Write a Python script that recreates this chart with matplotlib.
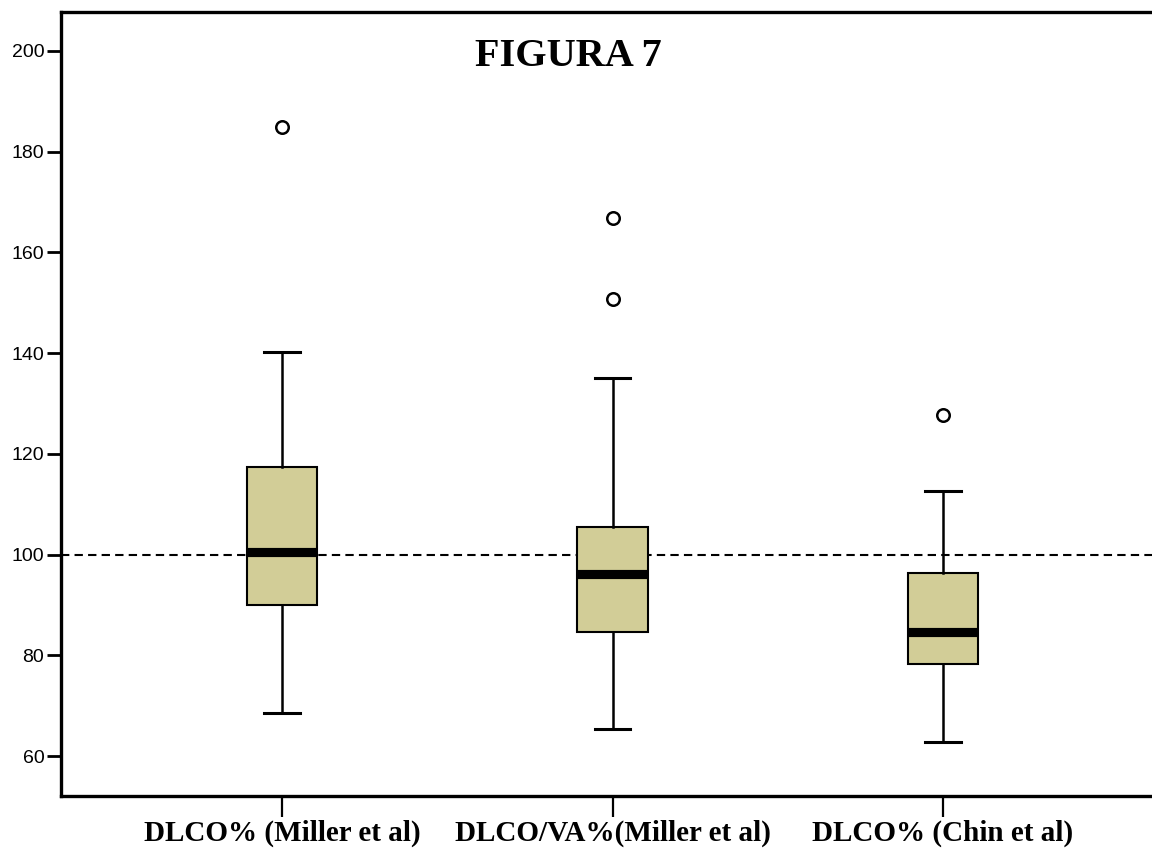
import numpy as np
import matplotlib.pyplot as plt

labels = ['DLCO% (Miller et al)', 'DLCO/VA%(Miller et al)', 'DLCO% (Chin et al)']
whisker_low = [68.5, 65.4, 62.8]
q1 = [90.0, 84.6, 78.3]
medians = [100.5, 96.1, 84.6]
q3 = [117.4, 105.5, 96.4]
whisker_high = [140.2, 135.1, 112.6]
outliers = [[184.9], [166.8, 150.8], [127.8]]

boxColor = '#d2cd97'

def buildStats():
    stats = []
    for i in range(len(labels)):
        stats.append({'whislo': whisker_low[i], 'q1': q1[i], 'med': medians[i],
                      'q3': q3[i], 'whishi': whisker_high[i], 'fliers': outliers[i]})
    return stats

def main():
    fig = plt.figure(figsize=(11.52, 8.52), dpi=100)
    # right spine lies outside the picture in the reference
    ax = fig.add_axes([61/1152, 1 - 796/852, (1164 - 61)/1152, (796 - 12)/852])

    ax.axhline(100, color='black', lw=1.5, ls=(0, (4, 2.5)), zorder=1)

    ax.bxp(buildStats(), positions=[1, 2, 3], widths=0.214, patch_artist=True,
           showfliers=True,
           boxprops=dict(facecolor=boxColor, edgecolor='black', lw=1.5),
           medianprops=dict(color='black', lw=6.6, solid_capstyle='butt'),
           whiskerprops=dict(color='black', lw=1.8),
           capprops=dict(color='black', lw=2.2),
           capwidths=0.107,
           flierprops=dict(marker='o', markerfacecolor='white', markeredgecolor='black',
                           markersize=9, markeredgewidth=1.8),
           zorder=3)

    ax.set_xlim(0.331, 3.669)
    ax.set_ylim(52.1, 207.7)
    ax.set_yticks([60, 80, 100, 120, 140, 160, 180, 200])
    ax.set_xticks([1, 2, 3])
    ax.set_xticklabels(labels, fontfamily='Liberation Serif', fontweight='bold', fontsize=21)
    for lab in ax.get_yticklabels():
        lab.set_fontfamily('Liberation Sans')
        lab.set_fontsize(14)

    ax.tick_params(axis='y', length=10, width=2, pad=2)
    ax.tick_params(axis='x', length=15, width=1.6, pad=2)

    for side in ['left', 'bottom', 'top']:
        ax.spines[side].set_linewidth(2.4)
    ax.spines['right'].set_visible(False)

    fig.text(568/1152, 1 - 57/852, 'FIGURA 7', ha='center', va='center',
             fontfamily='Liberation Serif', fontweight='bold', fontsize=29)

    fig.savefig('out.png', dpi=100)

if __name__ == "__main__":
    main()
